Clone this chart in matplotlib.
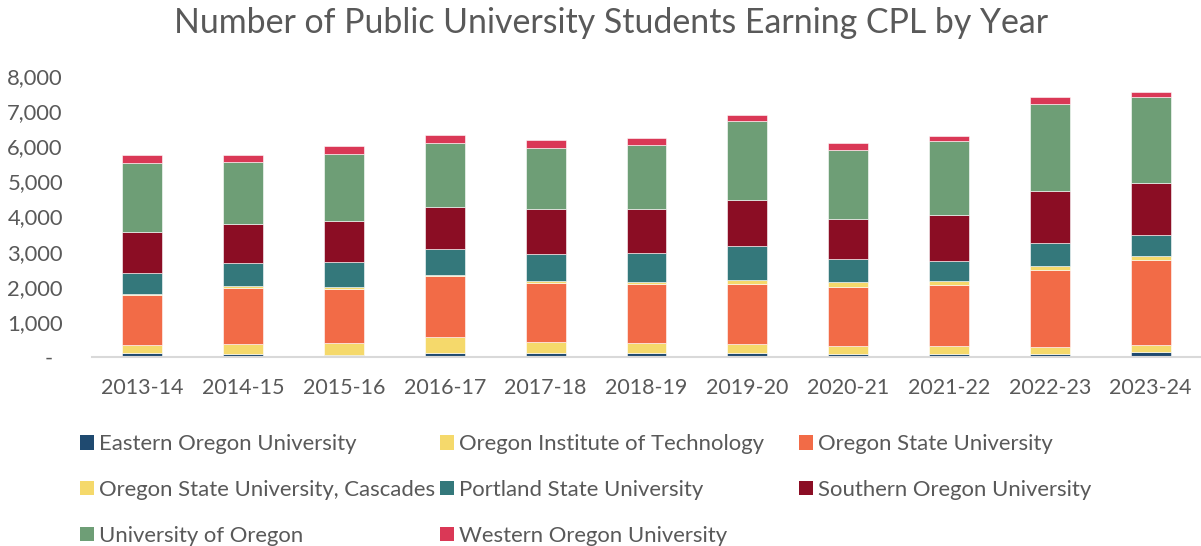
import matplotlib
matplotlib.use("Agg")
import matplotlib.pyplot as plt
import matplotlib.transforms as mtransforms
from matplotlib.patches import Patch
from matplotlib.ticker import FuncFormatter
import numpy as np

years = ["2013-14", "2014-15", "2015-16", "2016-17", "2017-18", "2018-19",
         "2019-20", "2020-21", "2021-22", "2022-23", "2023-24"]

eou      = [104, 76, 66, 114, 123, 104, 104, 76, 76, 95, 133]
oit      = [237, 304, 332, 456, 294, 294, 275, 247, 247, 199, 199]
osu      = [1415, 1586, 1548, 1728, 1700, 1681, 1690, 1662, 1738, 2194, 2441]
cascades = [30, 47, 57, 47, 57, 66, 123, 142, 95, 104, 104]
psu      = [617, 655, 712, 722, 769, 817, 978, 665, 589, 655, 608]
sou      = [1159, 1121, 1159, 1197, 1273, 1263, 1292, 1149, 1292, 1482, 1482]
uo       = [1975, 1766, 1918, 1842, 1747, 1814, 2251, 1966, 2118, 2479, 2422]
wou      = [209, 209, 209, 218, 228, 190, 190, 180, 133, 180, 142]

names = ["Eastern Oregon University", "Oregon Institute of Technology",
         "Oregon State University", "Oregon State University, Cascades",
         "Portland State University", "Southern Oregon University",
         "University of Oregon", "Western Oregon University"]
series = [eou, oit, osu, cascades, psu, sou, uo, wou]
colors = ["#1F4A70", "#F5D96B", "#F26B47", "#F5D96B",
          "#34787B", "#8B0D24", "#6E9E76", "#DA3856"]

TXT = "#595959"
FONT = "Lato"

W, H = 1201, 546
fig = plt.figure(figsize=(W / 100, H / 100), dpi=100)
ax = fig.add_axes([92 / W, (H - 357) / H, (1201 - 92) / W, (357 - 76) / H])

x = np.arange(len(years))
bottom = np.zeros(len(years))
for vals, c in zip(series, colors):
    v = np.array(vals, dtype=float)
    ax.bar(x, v, width=0.395, bottom=bottom, color=c, edgecolor="white",
           linewidth=0.4, zorder=2)
    bottom += v

ax.set_xlim(-0.5, len(years) - 0.5)
ax.set_ylim(0, 8000)
ax.set_yticks(np.arange(0, 8001, 1000))
ax.yaxis.set_major_formatter(FuncFormatter(lambda v, p: "-" if v == 0 else f"{int(v):,}"))
ax.set_xticks(x)
ax.set_xticklabels(years)

for s in ["top", "right", "left"]:
    ax.spines[s].set_visible(False)
ax.spines["bottom"].set_color("#D9D9D9")
ax.spines["bottom"].set_linewidth(1.5)
ax.tick_params(axis="both", length=0, colors=TXT)
ax.tick_params(axis="y", pad=21)
ax.tick_params(axis="x", pad=15)
for lab in ax.get_xticklabels():
    lab.set_fontfamily(FONT)
    lab.set_fontsize(15.5)
    lab.set_color(TXT)
for lab in ax.get_yticklabels():
    lab.set_fontfamily(FONT)
    lab.set_fontsize(15.8)
    lab.set_color(TXT)

# shift the "-" zero label left (accounting format alignment)
zero_lab = ax.get_yticklabels()[0]
zero_lab.set_transform(zero_lab.get_transform() +
                       mtransforms.ScaledTranslation(-10 / 100, 0, fig.dpi_scale_trans))

fig.text(611 / W, 1 - 23 / H, "Number of Public University Students Earning CPL by Year",
         ha="center", va="center", fontsize=24.4, color=TXT, family=FONT)

FS = 15.9
handles = [Patch(facecolor=c, edgecolor="none") for c in colors]
cols = [[0, 3, 6], [1, 4, 7], [2, 5]]
col_x = [80, 440, 799]
for idxs, cx in zip(cols, col_x):
    leg = fig.legend([handles[i] for i in idxs], [names[i] for i in idxs],
                     loc="upper left", bbox_to_anchor=(cx / W, 1 - 434 / H),
                     ncol=1, frameon=False, handlelength=0.64, handleheight=0.64,
                     handletextpad=0.22, labelspacing=1.17, borderpad=0,
                     borderaxespad=0, prop={"family": FONT, "size": FS})
    for t in leg.get_texts():
        t.set_color(TXT)

fig.savefig("out.png", dpi=100, facecolor="white")
